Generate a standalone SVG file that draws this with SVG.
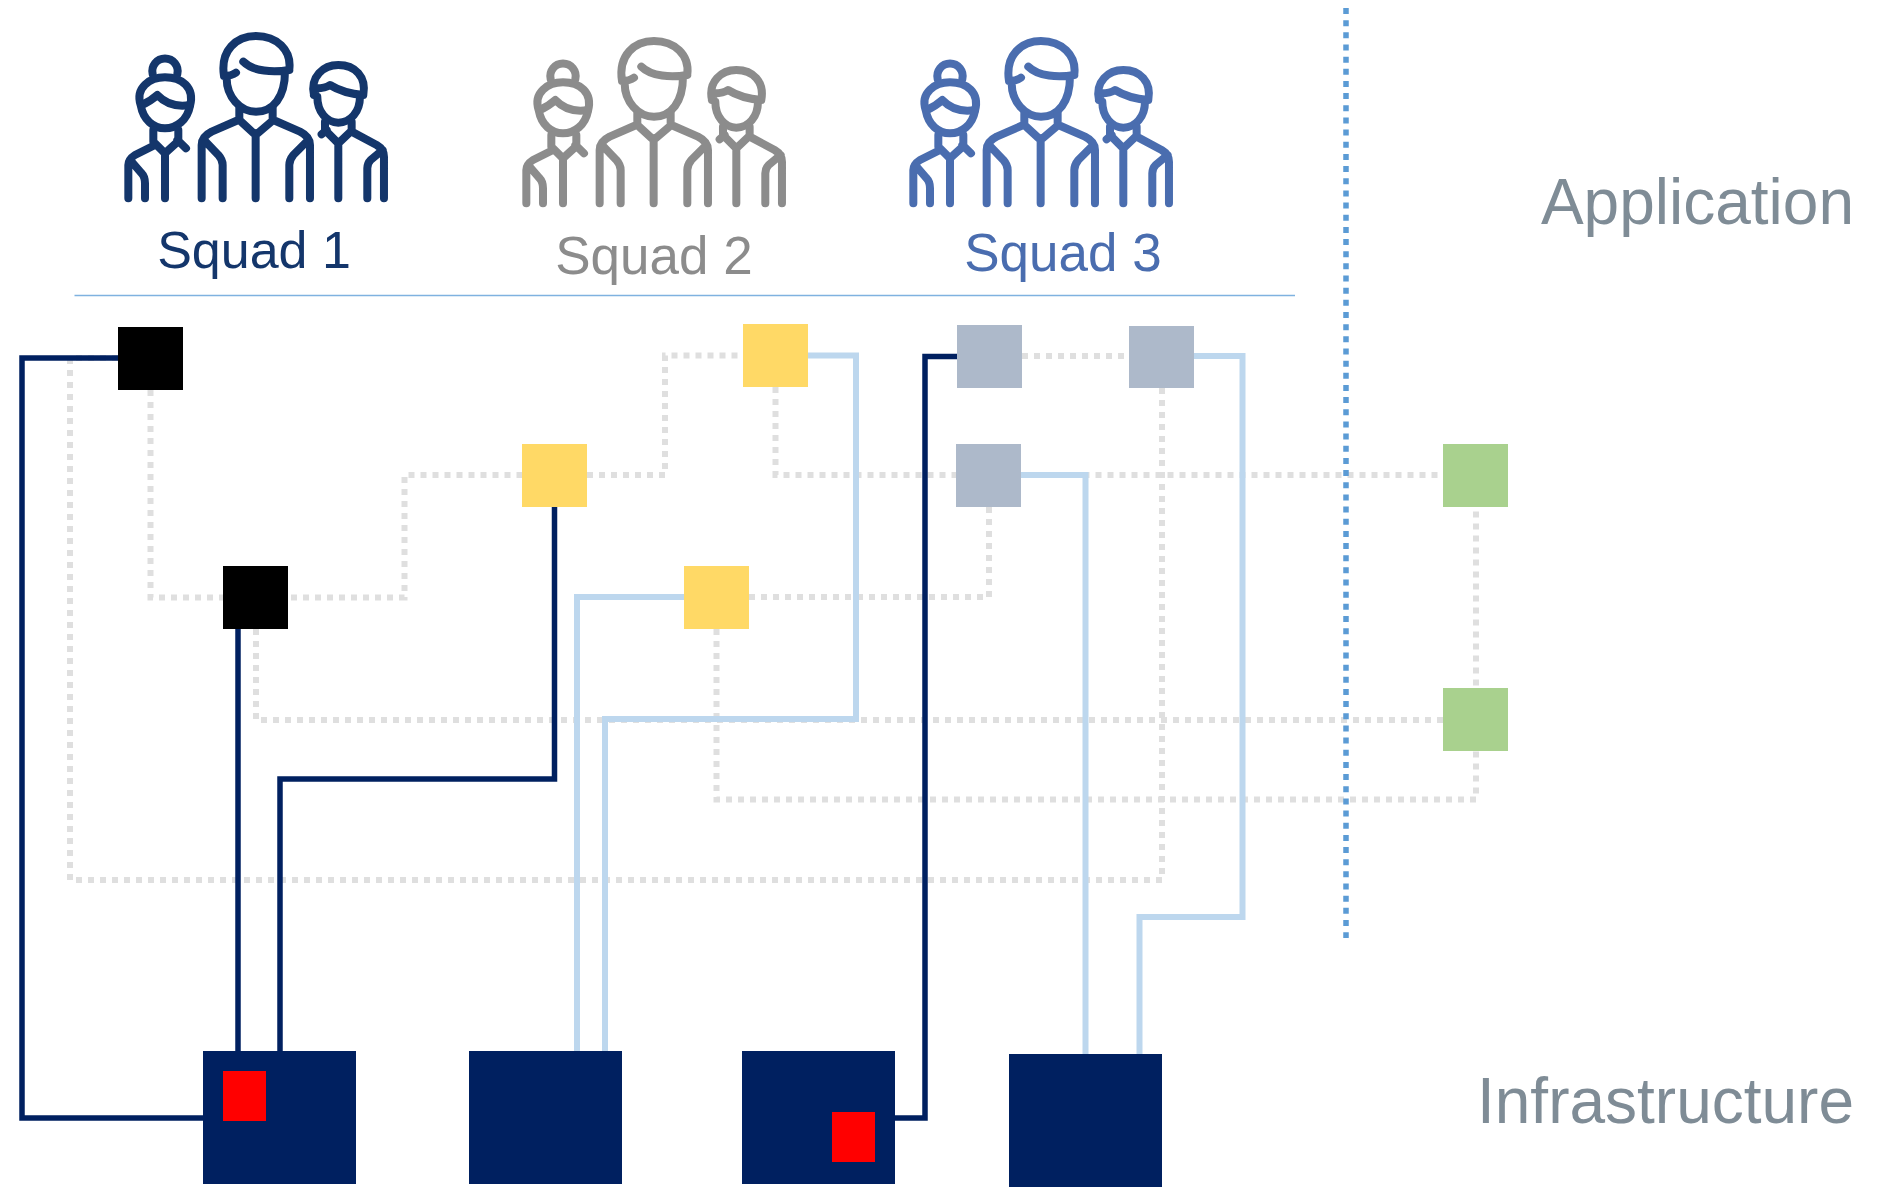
<svg xmlns="http://www.w3.org/2000/svg" xmlns:xlink="http://www.w3.org/1999/xlink" width="1883" height="1188" viewBox="0 0 1883 1188">
<style>
text{font-family:"Liberation Sans",Arial,sans-serif}
.lbl{font-size:53px;text-anchor:middle}
.side{font-size:64px;fill:#7f8c96;text-anchor:end}
.c{fill:none}
.dot{stroke:#dfdfdf;stroke-width:6;stroke-dasharray:6 6}
.lb{stroke:#bdd7ee;stroke-width:6}
.nv{stroke:#002060;stroke-width:5.500}
.div{stroke:#5b9bd5;stroke-width:5.500;stroke-dasharray:6 6.160}
.ico{fill:none;stroke:currentColor;stroke-width:24;stroke-linecap:round;stroke-linejoin:round}
.k{fill:#000}.y{fill:#ffd966}.g{fill:#adb9ca}.gr{fill:#a9d18e}.n{fill:#002060}.r{fill:#f00}
</style>
<defs>
<g id="people" class="ico">
<path d="M158 222A38 38 0 1 1 232 222"/>
<path d="M122 315C105 262 150 232 195 232C245 232 285 262 270 318C262 360 230 385 195 385C160 385 130 360 122 315Z"/>
<path d="M125 315Q150 305 172 285Q210 325 270 315"/>
<path d="M160 390V425M235 390V425M165 430L195 460L228 430M195 455V595M165 435L105 465Q85 478 85 495V595M232 420L258 445M90 480L125 520Q135 530 135 550V595"/>
<path d="M372 228C360 150 410 108 468 108C530 108 575 150 568 208M430 185C460 215 520 218 568 210M372 228Q395 228 408 218M380 235C380 290 420 335 468 335C520 335 555 290 555 215"/>
<path d="M418 325V358M518 325V358M418 360L467 405L520 360M467 400V595M415 360L335 395Q305 410 305 435V595M520 360L600 395Q630 410 630 435V595M312 420L355 465Q368 480 368 495V595M625 420L580 465Q568 480 568 495V595"/>
<path d="M642 285C630 230 670 195 715 195C765 195 800 230 790 285M642 285L650 265Q675 265 690 255Q730 280 790 285M652 290C652 335 680 368 715 368C752 368 780 335 780 290"/>
<path d="M675 365V395M755 365V395M680 395L715 430L752 395M715 425V595M665 403L680 390M755 395L830 435Q852 448 852 470V595M848 450L812 480Q802 490 802 505V595"/>
</g>
</defs>
<g id="squad1" color="#14366b">
<use href="#people" transform="translate(100 0) scale(.3333)"/>
<text class="lbl" x="254" y="268" fill="#14366b" style="font-size:52px">Squad 1</text>
</g>
<g id="squad2" color="#8c8c8c">
<use href="#people" transform="translate(498 5) scale(.3333)"/>
<text class="lbl" x="654" y="274" fill="#8c8c8c">Squad 2</text>
</g>
<g id="squad3" color="#4a6daf">
<use href="#people" transform="translate(885 5) scale(.3333)"/>
<text class="lbl" x="1063" y="271" fill="#4a6daf">Squad 3</text>
</g>
<g id="connectors">
<path class="c" d="M74.500 295.500H1295" stroke="#7fb2e0" stroke-width="1.500"/>
<g id="dotted">
<path class="c dot" d="M118 358H70V880H1162V388"/>
<path class="c dot" d="M150.500 390V597.500H404.500V475H522"/>
<path class="c dot" d="M587 475H665V355.500H743"/>
<path class="c dot" d="M775.500 387V475H1443"/>
<path class="c dot" d="M256 629V720H1443"/>
<path class="c dot" d="M716.500 629V799.500H1476V507"/>
<path class="c dot" d="M749 597H989V507"/>
<path class="c dot" d="M1022 356H1129"/>
</g>
<g id="light">
<path class="c lb" d="M808 355.500H856V719H605V1051"/>
<path class="c lb" d="M684 597H577V1051"/>
<path class="c lb" d="M1021 475H1085.500V1054"/>
<path class="c lb" d="M1194 356H1242.500V917H1139.500V1054"/>
</g>
<g id="dark">
<path class="c nv" d="M118 358H22V1118H203"/>
<path class="c nv" d="M238 629V1051"/>
<path class="c nv" d="M554.500 507V779H280V1051"/>
<path class="c nv" d="M895 1118H925V356.500H957"/>
</g>
<path class="c div" d="M1346 8V938"/>
</g>
<g id="app1"><rect class="k" x="118" y="327" width="65" height="63"/></g>
<g id="app2"><rect class="k" x="223" y="566" width="65" height="63"/></g>
<g id="app3"><rect class="y" x="743" y="324" width="65" height="63"/></g>
<g id="app4"><rect class="y" x="522" y="444" width="65" height="63"/></g>
<g id="app5"><rect class="y" x="684" y="566" width="65" height="63"/></g>
<g id="app6"><rect class="g" x="957" y="325" width="65" height="63"/></g>
<g id="app7"><rect class="g" x="1129" y="326" width="65" height="62"/></g>
<g id="app8"><rect class="g" x="956" y="444" width="65" height="63"/></g>
<g id="app9"><rect class="gr" x="1443" y="444" width="65" height="63"/></g>
<g id="app10"><rect class="gr" x="1443" y="688" width="65" height="63"/></g>
<g id="infra1"><rect class="n" x="203" y="1051" width="153" height="133"/><rect class="r" x="223" y="1071" width="43" height="50"/></g>
<g id="infra2"><rect class="n" x="469" y="1051" width="153" height="133"/></g>
<g id="infra3"><rect class="n" x="742" y="1051" width="153" height="133"/><rect class="r" x="832" y="1112" width="43" height="50"/></g>
<g id="infra4"><rect class="n" x="1009" y="1054" width="153" height="133"/></g>
<text class="side" x="1854" y="224">Application</text>
<text class="side" x="1854" y="1123">Infrastructure</text>
</svg>
